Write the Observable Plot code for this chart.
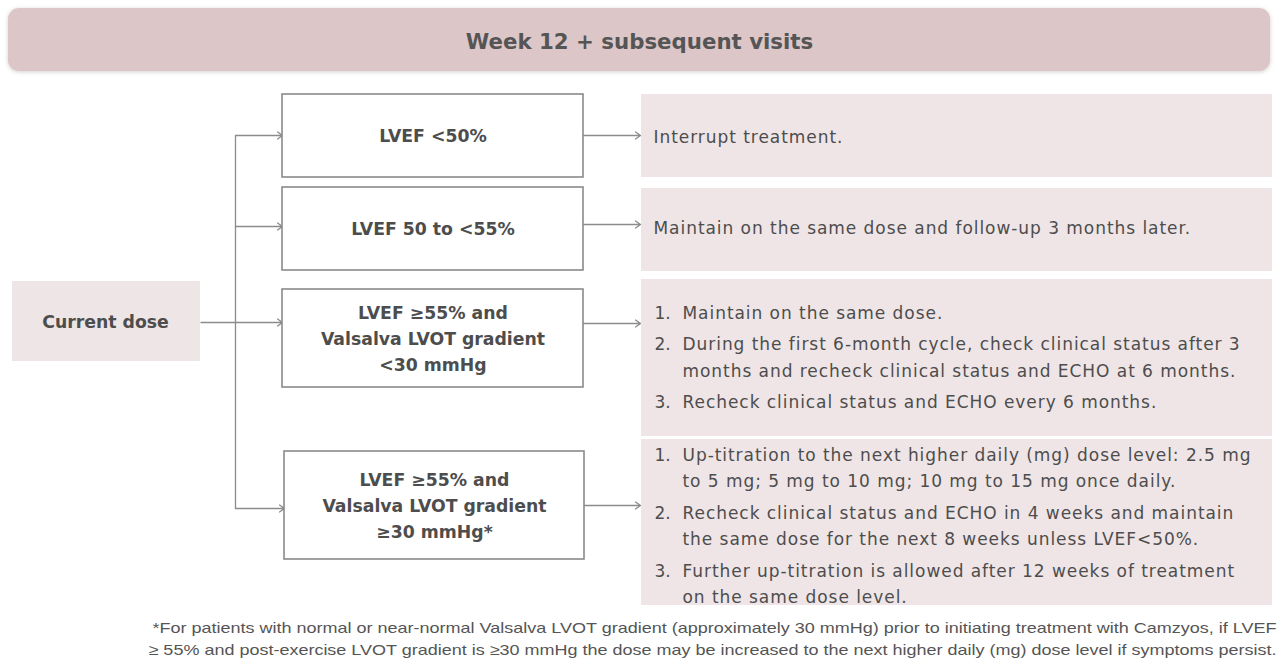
<!DOCTYPE html>
<html>
<head>
<meta charset="utf-8">
<script src="https://cdn.jsdelivr.net/npm/d3@7"></script>
<script src="https://cdn.jsdelivr.net/npm/@observablehq/plot@0.6"></script>
<style>
  html, body { margin: 0; padding: 0; background: #ffffff; }
  #chart svg { display: block; }
</style>
</head>
<body>
<div id="chart"></div>
<script>
// ---- content ----
const headerTitle = "Week 12 + subsequent visits";
const sourceLabel = "Current dose";
const conditions = [
  "LVEF <50%",
  "LVEF 50 to <55%",
  "LVEF ≥55% and\nValsalva LVOT gradient\n<30 mmHg",
  "LVEF ≥55% and\nValsalva LVOT gradient\n≥30 mmHg*"
];
const actions = [
  ["Interrupt treatment."],
  ["Maintain on the same dose and follow-up 3 months later."],
  [
    "Maintain on the same dose.",
    "During the first 6-month cycle, check clinical status after 3\nmonths and recheck clinical status and ECHO at 6 months.",
    "Recheck clinical status and ECHO every 6 months."
  ],
  [
    "Up-titration to the next higher daily (mg) dose level: 2.5 mg\nto 5 mg; 5 mg to 10 mg; 10 mg to 15 mg once daily.",
    "Recheck clinical status and ECHO in 4 weeks and maintain\nthe same dose for the next 8 weeks unless LVEF<50%.",
    "Further up-titration is allowed after 12 weeks of treatment\non the same dose level."
  ]
];
const footnote = [
  "*For patients with normal or near-normal Valsalva LVOT gradient (approximately 30 mmHg) prior to initiating treatment with Camzyos, if LVEF",
  "≥ 55% and post-exercise LVOT gradient is ≥30 mmHg the dose may be increased to the next higher daily (mg) dose level if symptoms persist."
];

// ---- layout (pixel geometry of the flow diagram) ----
const W = 1279, H = 662;
const condBox = [
  {x1: 282, x2: 583, y1: 94,  y2: 177, yIn: 135, yOut: 135},
  {x1: 282, x2: 583, y1: 187, y2: 270, yIn: 226, yOut: 224},
  {x1: 282, x2: 583, y1: 289, y2: 387, yIn: 322, yOut: 323},
  {x1: 284, x2: 584, y1: 451, y2: 559, yIn: 508, yOut: 505}
];
const panelBox = [
  {y1: 94,  y2: 177, first: 137},
  {y1: 188, y2: 271, first: 228},
  {y1: 279, y2: 436, first: 313},
  {y1: 439, y2: 605, first: 455}
];
const panelX1 = 641, panelX2 = 1272;
const trunkX = 235;
const srcBox = {x1: 12, x2: 200, y1: 281, y2: 361, y: 322};
const lineH = 26.5, itemGap = 5;

const FONT = "'DejaVu Sans', sans-serif";
const txt = "#4d4d4d";
const stroke = "#8c8c8c";

const condData = conditions.map((label, i) => ({label, ...condBox[i]}));
const panelData = panelBox.map((p, i) => ({...p, x1: panelX1, x2: panelX2}));

const panelLines = [];
actions.forEach((items, i) => {
  const numbered = items.length > 1;
  let y = panelBox[i].first;
  items.forEach((item, k) => {
    item.split("\n").forEach((ln, j) => {
      panelLines.push({
        num: numbered && j === 0 ? `${k + 1}.` : "",
        text: ln,
        x: numbered ? 682 : 653,
        y
      });
      y += lineH;
    });
    y += itemGap;
  });
});

const inArrows = condBox.map(b => ({x1: trunkX, x2: b.x1, y: b.yIn}));
const outArrows = condBox.map(b => ({x1: b.x2, x2: panelX1 - 1, y: b.yOut}));

const chart = Plot.plot({
  width: W,
  height: H,
  margin: 0,
  x: {domain: [0, W], range: [0, W], axis: null},
  y: {domain: [0, H], range: [0, H], axis: null},
  style: {fontFamily: FONT, background: "#ffffff"},
  marks: [
    Plot.rect([{x1: 8, x2: 1270, y1: 8, y2: 71}], {
      x1: "x1", x2: "x2", y1: "y1", y2: "y2", fill: "#dcc6c8", rx: 11
    }),
    Plot.text([headerTitle], {
      x: () => 639, y: () => 42, text: d => d, fill: "#555555",
      fontSize: 21.3, fontWeight: "bold", textAnchor: "middle", lineAnchor: "middle"
    }),
    Plot.rect([srcBox], {x1: "x1", x2: "x2", y1: "y1", y2: "y2", fill: "#eee5e6"}),
    Plot.text([sourceLabel], {
      x: () => 105, y: () => srcBox.y, text: d => d, fill: txt,
      fontSize: 17.3, fontWeight: "bold", lineAnchor: "middle"
    }),
    Plot.rect(panelData, {x1: "x1", x2: "x2", y1: "y1", y2: "y2", fill: "#efe5e6"}),
    Plot.link([{x1: srcBox.x2, x2: trunkX, y: srcBox.y}], {
      x1: "x1", x2: "x2", y1: "y", y2: "y", stroke, strokeWidth: 1.3
    }),
    Plot.link([{x: trunkX, y1: condBox[0].yIn, y2: condBox[3].yIn}], {
      x1: "x", x2: "x", y1: "y1", y2: "y2", stroke, strokeWidth: 1.3
    }),
    Plot.arrow(inArrows, {
      x1: "x1", x2: "x2", y1: "y", y2: "y", stroke, strokeWidth: 1.3,
      headLength: 7, headAngle: 70
    }),
    Plot.arrow(outArrows, {
      x1: "x1", x2: "x2", y1: "y", y2: "y", stroke, strokeWidth: 1.3,
      headLength: 7, headAngle: 70
    }),
    Plot.rect(condData, {
      x1: "x1", x2: "x2", y1: "y1", y2: "y2",
      fill: "#ffffff", stroke: "#8a8a8a", strokeWidth: 1.6
    }),
    Plot.text(condData, {
      x: d => (d.x1 + d.x2) / 2, y: d => (d.y1 + d.y2) / 2 - 2, text: "label",
      fill: txt, fontSize: 17.3, fontWeight: "bold", lineHeight: 1.5,
      textAnchor: "middle", lineAnchor: "middle"
    }),
    Plot.text(panelLines, {
      x: () => 654, y: "y", text: "num", fill: txt, fontSize: 17,
      textAnchor: "start", lineAnchor: "middle"
    }),
    Plot.text(panelLines, {
      x: "x", y: "y", text: "text", fill: txt, fontSize: 17,
      textAnchor: "start", lineAnchor: "middle"
    }),
    Plot.text(footnote, {
      x: (d, i) => i === 0 ? 152 : 148, y: (d, i) => i === 0 ? 628 : 650,
      text: d => d, fill: "#555555", fontSize: 15,
      fontFamily: "'Liberation Sans', Arial, sans-serif",
      textAnchor: "start", lineAnchor: "middle"
    })
  ]
});

document.getElementById("chart").appendChild(chart);

// post-render styling: header shadow, panel letter spacing, narrow footnote
d3.select(chart).select("rect").style("filter", "drop-shadow(0px 1px 2px rgba(0,0,0,0.18))");
const panelTexts = new Set(panelLines.map(d => d.text));
d3.select(chart).selectAll("text").each(function () {
  const t = this.textContent;
  if (panelTexts.has(t)) this.style.letterSpacing = "0.95px";
  if (t === footnote[0]) { this.setAttribute("textLength", 1124); this.setAttribute("lengthAdjust", "spacingAndGlyphs"); }
  if (t === footnote[1]) { this.setAttribute("textLength", 1128); this.setAttribute("lengthAdjust", "spacingAndGlyphs"); }
});
</script>
</body>
</html>
